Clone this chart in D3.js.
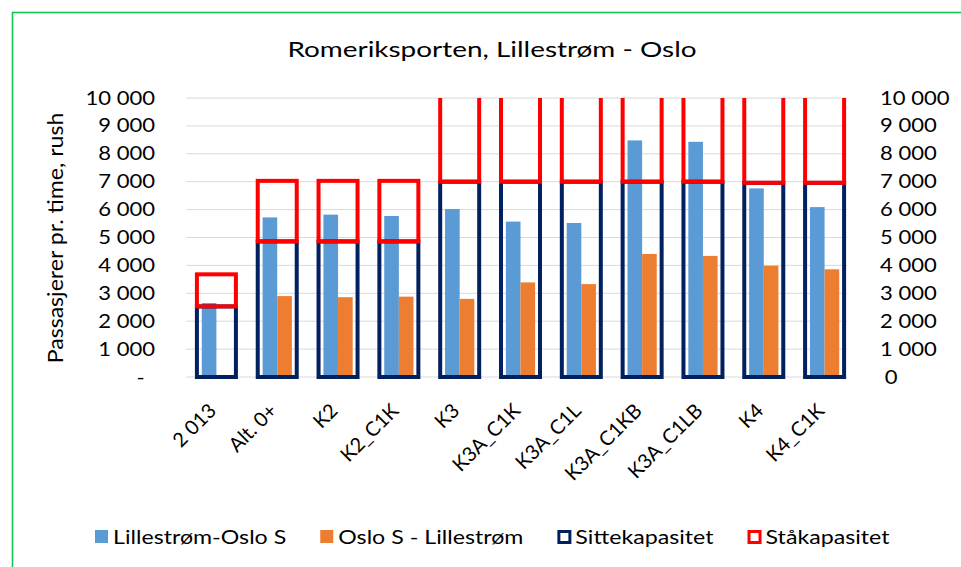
<!DOCTYPE html>
<html>
<head>
<meta charset="utf-8">
<script src="https://cdnjs.cloudflare.com/ajax/libs/d3/7.8.5/d3.min.js"></script>
<style>
    body { margin: 0; background: #ffffff; }
    text { font-family: Lato, "Open Sans", sans-serif; fill: #000000; }
</style>
</head>
<body>
<div id="chart"></div>
<script>
// Data
const categories = ["2 013", "Alt. 0+", "K2", "K2_C1K", "K3", "K3A_C1K", "K3A_C1L", "K3A_C1KB", "K3A_C1LB", "K4", "K4_C1K"];
const lillestromOslo = [2650, 5720, 5820, 5770, 6020, 5570, 5520, 8480, 8430, 6760, 6090];
const osloLillestrom = [null, 2900, 2860, 2880, 2800, 3390, 3330, 4410, 4340, 3990, 3860];
const sittekapasitet = [2530, 4860, 4860, 4860, 7000, 7000, 7000, 7000, 7000, 6960, 6960];
// standing capacity stacked on top of seats (cut at the axis max for K3 and later)
const staakapasitet = [1150, 2170, 2170, 2170, 5000, 5000, 5000, 5000, 5000, 5000, 5000];
const yTicks = [0, 1000, 2000, 3000, 4000, 5000, 6000, 7000, 8000, 9000, 10000];

const seriesNames = ["Lillestrøm-Oslo S", "Oslo S - Lillestrøm", "Sittekapasitet", "Ståkapasitet"];
const colors = {blue: "#5b9bd5", orange: "#ed7d31", navy: "#002060", red: "#ff0000"};

const width = 961, height = 567;
const margin = {top: 98, right: 106, bottom: 190, left: 186};

// the source picture is a bit wider than tall text would be, so text gets a horizontal stretch
const stretch = 1.2;

var svg = d3.select("#chart")
    .append("svg")
    .attr("width", width)
    .attr("height", height);

svg.append("rect")
    .attr("width", width)
    .attr("height", height)
    .attr("fill", "#ffffff");

// green frame around the chart
svg.append("rect")
    .attr("x", 12.5)
    .attr("y", 12.5)
    .attr("width", width)
    .attr("height", height)
    .attr("fill", "none")
    .attr("stroke", "#14c455")
    .attr("stroke-width", 1.6);

const x = d3.scaleBand()
    .domain(categories)
    .range([margin.left, 855])
    .paddingInner(0)
    .paddingOuter(0);

const y = d3.scaleLinear()
    .domain([0, 10000])
    .range([377, margin.top]);

// inner band for the passenger bars
const x1 = d3.scaleBand()
    .domain(["a", "b"])
    .range([0, x.bandwidth()])
    .paddingInner(0)
    .paddingOuter(1.08);

const fmt = d => d3.format(",")(d).replace(/,/g, " ");

svg.append("text")
    .attr("transform", "translate(492,57) scale(1.33,1)")
    .attr("text-anchor", "middle")
    .style("font-size", "21px")
    .text("Romeriksporten, Lillestrøm - Oslo");

// gridlines
svg.append("g")
    .selectAll("line")
    .data(yTicks)
    .enter()
    .append("line")
    .attr("x1", margin.left)
    .attr("x2", 847)
    .attr("y1", d => y(d))
    .attr("y2", d => y(d))
    .attr("stroke", "#d9d9d9")
    .attr("stroke-width", 1);

// left axis
const leftAxis = d3.axisLeft(y)
    .tickValues(yTicks)
    .tickSize(0)
    .tickPadding(0)
    .tickFormat(d => d === 0 ? "-" : fmt(d));
var gl = svg.append("g")
    .attr("transform", "translate(155,0)")
    .call(leftAxis);
gl.select(".domain").remove();
gl.selectAll("text")
    .style("font-size", "19px")
    .style("font-family", "Lato, sans-serif")
    .attr("fill", "#000")
    .attr("dx", d => d === 0 ? -9 : 0)
    .attr("transform", "scale(1.16,1)");

// right axis
const rightAxis = d3.axisRight(y)
    .tickValues(yTicks)
    .tickSize(0)
    .tickPadding(0)
    .tickFormat(d => d === 0 ? "0" : fmt(d));
var gr = svg.append("g")
    .attr("transform", "translate(880,0)")
    .call(rightAxis);
gr.select(".domain").remove();
gr.selectAll("text")
    .style("font-size", "19px")
    .style("font-family", "Lato, sans-serif")
    .attr("fill", "#000")
    .attr("dx", d => d === 0 ? 4 : 0)
    .attr("transform", "scale(1.16,1)");

svg.append("text")
    .attr("transform", "translate(63,238) rotate(-90) scale(1.1,1)")
    .attr("text-anchor", "middle")
    .style("font-size", "21px")
    .text("Passasjerer pr. time, rush");

// clip for the capacity boxes that run over the top
svg.append("clipPath")
    .attr("id", "plotClip")
    .append("rect")
    .attr("x", 0)
    .attr("y", margin.top)
    .attr("width", width)
    .attr("height", height - margin.top);

var plot = svg.append("g");

plot.selectAll("rect.blue")
    .data(lillestromOslo)
    .enter()
    .append("rect")
    .attr("class", "blue")
    .attr("x", (d, i) => x(categories[i]) + x1("a"))
    .attr("width", x1.bandwidth())
    .attr("y", d => y(d))
    .attr("height", d => y(0) - y(d))
    .attr("fill", colors.blue);

plot.selectAll("rect.orange")
    .data(osloLillestrom.map((v, i) => ({v: v, i: i})).filter(d => d.v != null))
    .enter()
    .append("rect")
    .attr("class", "orange")
    .attr("x", d => x(categories[d.i]) + x1("b"))
    .attr("width", x1.bandwidth())
    .attr("y", d => y(d.v))
    .attr("height", d => y(0) - y(d.v))
    .attr("fill", colors.orange);

// capacity boxes (secondary axis, same scale)
const boxW = 39;
var caps = svg.append("g").attr("clip-path", "url(#plotClip)");

caps.selectAll("rect.sitte")
    .data(sittekapasitet)
    .enter()
    .append("rect")
    .attr("class", "sitte")
    .attr("x", (d, i) => x(categories[i]) + x.bandwidth() / 2 - boxW / 2)
    .attr("width", boxW)
    .attr("y", d => y(d))
    .attr("height", d => y(0) - y(d))
    .attr("fill", "none")
    .attr("stroke", colors.navy)
    .attr("stroke-width", 4);

caps.selectAll("rect.staa")
    .data(staakapasitet)
    .enter()
    .append("rect")
    .attr("class", "staa")
    .attr("x", (d, i) => x(categories[i]) + x.bandwidth() / 2 - boxW / 2)
    .attr("width", boxW)
    .attr("y", (d, i) => y(sittekapasitet[i] + d))
    .attr("height", (d, i) => y(sittekapasitet[i]) - y(sittekapasitet[i] + d))
    .attr("fill", "none")
    .attr("stroke", colors.red)
    .attr("stroke-width", 4);

// category labels
svg.append("g")
    .selectAll("text")
    .data(categories)
    .enter()
    .append("text")
    .attr("transform", d => "translate(" + (x(d) + x.bandwidth() / 2 + 1) + ",412) rotate(-45)")
    .attr("text-anchor", "end")
    .style("font-size", "20px")
    .text(d => d);

// legend
const legendItems = [
    {name: seriesNames[0], fill: colors.blue, stroke: "none"},
    {name: seriesNames[1], fill: colors.orange, stroke: "none"},
    {name: seriesNames[2], fill: "#ffffff", stroke: colors.navy},
    {name: seriesNames[3], fill: "#ffffff", stroke: colors.red}
];
const legendScale = 1.22;
var legend = svg.append("g");
var lx = 95;
legendItems.forEach(function (item) {
    var g = legend.append("g").attr("transform", "translate(" + lx + ",0)");
    if (item.stroke === "none") {
        g.append("rect").attr("x", 0).attr("y", 530).attr("width", 13).attr("height", 13).attr("fill", item.fill);
    } else {
        g.append("rect").attr("x", 1.5).attr("y", 531.5).attr("width", 11).attr("height", 11)
            .attr("fill", item.fill).attr("stroke", item.stroke).attr("stroke-width", 3);
    }
    var t = g.append("text")
        .attr("transform", "translate(18,544) scale(" + legendScale + ",1)")
        .style("font-size", "19px")
        .text(item.name);
    lx += 18 + t.node().getComputedTextLength() * legendScale + 34;
});
</script>
</body>
</html>
